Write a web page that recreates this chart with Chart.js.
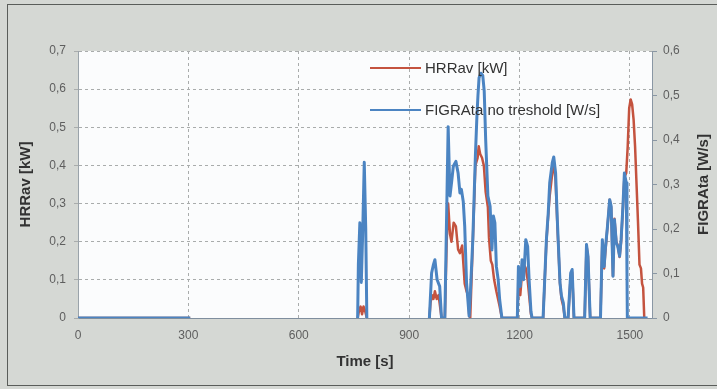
<!DOCTYPE html>
<html>
<head>
<meta charset="utf-8">
<script src="https://cdn.jsdelivr.net/npm/chart.js@4/dist/chart.umd.min.js"></script>
<style>
  body { margin: 0; background: #d5d8d4; }
  #wrap { position: relative; width: 717px; height: 389px; overflow: hidden; }
  #frame { position: absolute; left: 7px; top: 4px; width: 720px; height: 380px;
           border: 1px solid #5a5d5a; border-right: none; }
  canvas { position: absolute; left: 0; top: 0; }
</style>
</head>
<body>
<div id="wrap">
  <div id="frame"></div>
  <canvas id="chart" width="717" height="389"></canvas>
</div>
<script>
// x-axis ticks (s) and y-axis ticks
const timeTicks = [0, 300, 600, 900, 1200, 1500];
const hrrTicks = [0, 0.1, 0.2, 0.3, 0.4, 0.5, 0.6, 0.7];
const figraTicks = [0, 0.1, 0.2, 0.3, 0.4, 0.5, 0.6];

// HRRav [kW] (left axis), null = no data
const hrrTime = [0, 305, 306,
  760, 764, 768, 772, 776, 780, 785, 786,
  955, 958, 962, 966, 970, 975, 980, 988, 997,
  1002, 1006, 1011, 1015, 1021, 1027, 1033, 1038, 1044, 1051, 1056, 1060, 1063, 1066,
  1073, 1080, 1086, 1089, 1093, 1098, 1103, 1108, 1114, 1117, 1122, 1126, 1131, 1137, 1146, 1152,
  1194, 1197, 1202, 1207, 1212, 1217, 1222, 1226, 1231, 1234,
  1264, 1273, 1278, 1282, 1289, 1293, 1298, 1303, 1310, 1314, 1319, 1323,
  1332, 1339, 1343, 1348, 1377, 1382, 1386, 1392,
  1420, 1425, 1430, 1433, 1439, 1445, 1449, 1454, 1458, 1463, 1467, 1472, 1476, 1481, 1485, 1490,
  1494, 1498, 1502, 1506, 1510, 1514, 1518, 1522, 1526, 1530, 1533, 1536, 1539];
const hrrValues = [0, 0, null,
  0, 0.02, 0.03, 0.01, 0.03, 0.02, 0, null,
  0, 0.04, 0.06, 0.05, 0.07, 0.05, 0.06, 0, 0,
  0.2, 0.3, 0.22, 0.2, 0.25, 0.24, 0.18, 0.17, 0.19, 0.09, 0.07, 0.06, 0.01, 0,
  0.2, 0.4, 0.42, 0.45, 0.43, 0.42, 0.4, 0.33, 0.29, 0.21, 0.15, 0.14, 0.1, 0.07, 0.03, 0,
  0, 0.08, 0.06, 0.12, 0.14, 0.13, 0.1, 0.06, 0.01, 0,
  0, 0.2, 0.27, 0.32, 0.38, 0.41, 0.36, 0.24, 0.09, 0.05, 0.03, 0,
  0, 0.11, 0.12, 0, 0, 0.19, 0.16, 0,
  0, 0.2, 0.13, 0.17, 0.24, 0.31, 0.29, 0.11, 0.26, 0.2, 0.19, 0.16, 0.2, 0.29, 0.37, 0.38,
  0.45, 0.55, 0.573, 0.56, 0.52, 0.45, 0.35, 0.25, 0.14, 0.13, 0.09, 0.08, 0];

// FIGRAta no treshold [W/s] (right axis)
const figraTime = [0, 305, 306,
  760, 762, 766, 770, 774, 778, 782, 785, 786,
  955, 961, 966, 970, 976, 983, 988, 997,
  1006, 1011, 1016, 1020, 1027, 1033, 1038, 1042, 1047, 1051, 1056, 1063, 1066,
  1073, 1080, 1084, 1087, 1090, 1095, 1100, 1104, 1108, 1114, 1120, 1125, 1129, 1133, 1137, 1142, 1146, 1152,
  1194, 1197, 1202, 1207, 1211, 1217, 1222, 1226, 1231, 1234,
  1264, 1273, 1278, 1282, 1289, 1293, 1298, 1303, 1310, 1314, 1319, 1323,
  1332, 1339, 1343, 1348, 1377, 1382, 1386, 1392,
  1420, 1425, 1430, 1433, 1439, 1445, 1449, 1454, 1458, 1463, 1467, 1472, 1476, 1481, 1485, 1490, 1492, 1493, 1548];
const figraValues = [0, 0, null,
  0, 0.12, 0.214, 0.08, 0.2, 0.35, 0.2, 0, null,
  0, 0.101, 0.12, 0.131, 0.086, 0.071, 0, 0,
  0.43, 0.274, 0.31, 0.341, 0.352, 0.326, 0.281, 0.289, 0.262, 0.206, 0.079, 0.004, 0.05,
  0.176, 0.364, 0.45, 0.5, 0.54, 0.55, 0.545, 0.51, 0.4, 0.274, 0.251, 0.153, 0.229, 0.214, 0.116, 0.086, 0.041, 0,
  0, 0.116, 0.071, 0.131, 0.086, 0.176, 0.161, 0.086, 0.015, 0,
  0, 0.176, 0.236, 0.304, 0.349, 0.362, 0.326, 0.214, 0.079, 0.049, 0.034, 0,
  0, 0.101, 0.109, 0, 0, 0.165, 0.139, 0,
  0, 0.176, 0.116, 0.153, 0.206, 0.266, 0.251, 0.094, 0.221, 0.169, 0.161, 0.139, 0.176, 0.251, 0.326, 0.304, 0.1, 0, 0];

const RED = '#c4533f';
const BLUE = '#4b84c2';
const GRID = '#a9acac';
const TEXT = '#5e5e5e';
const TITLE = '#333';
const FONT = '"Liberation Sans", Arial, sans-serif';

const toPoints = (xs, ys) => xs.map((x, i) => ({ x: x, y: ys[i] }));
const comma = v => v === 0 ? '0' : v.toFixed(1).replace('.', ',');
const fixTicks = list => scale => { scale.ticks = list.map(v => ({ value: v })); };

// legend drawn inside the plot, like the original
const insideLegend = {
  id: 'insideLegend',
  afterDatasetsDraw(chart) {
    const ctx = chart.ctx;
    const items = [
      { label: 'HRRav [kW]', color: RED, y: 68 },
      { label: 'FIGRAta no treshold [W/s]', color: BLUE, y: 110 }
    ];
    ctx.save();
    ctx.font = '15px ' + FONT;
    ctx.textBaseline = 'middle';
    items.forEach(it => {
      ctx.strokeStyle = it.color;
      ctx.lineWidth = 2;
      ctx.beginPath();
      ctx.moveTo(370, it.y);
      ctx.lineTo(421, it.y);
      ctx.stroke();
      ctx.fillStyle = TITLE;
      ctx.fillText(it.label, 425, it.y + 1);
    });
    ctx.restore();
  }
};

// right axis title reads bottom-to-top in the original
const rightTitle = {
  id: 'rightTitle',
  afterDraw(chart) {
    const a = chart.chartArea;
    const ctx = chart.ctx;
    ctx.save();
    ctx.translate(704, (a.top + a.bottom) / 2);
    ctx.rotate(-Math.PI / 2);
    ctx.font = 'bold 15px ' + FONT;
    ctx.fillStyle = TITLE;
    ctx.textAlign = 'center';
    ctx.textBaseline = 'middle';
    ctx.fillText('FIGRAta [W/s]', 0, 0);
    ctx.restore();
  }
};

const plotBg = {
  id: 'plotBg',
  beforeDraw(chart) {
    const a = chart.chartArea;
    chart.ctx.save();
    chart.ctx.fillStyle = '#fbfcfd';
    chart.ctx.fillRect(a.left, a.top, a.right - a.left, a.bottom - a.top);
    chart.ctx.restore();
  }
};

const tickFont = { family: FONT, size: 12 };
const titleFont = { family: FONT, size: 15, weight: 'bold' };

new Chart(document.getElementById('chart'), {
  type: 'line',
  data: {
    datasets: [{
      label: 'HRRav [kW]',
      data: toPoints(hrrTime, hrrValues),
      yAxisID: 'y',
      borderColor: RED,
      borderWidth: 2.5,
      borderJoinStyle: 'round',
      pointRadius: 0,
      tension: 0,
      spanGaps: false,
      order: 2
    }, {
      label: 'FIGRAta no treshold [W/s]',
      data: toPoints(figraTime, figraValues),
      yAxisID: 'y2',
      borderColor: BLUE,
      borderWidth: 3,
      borderJoinStyle: 'round',
      pointRadius: 0,
      tension: 0,
      spanGaps: false,
      order: 1
    }]
  },
  options: {
    responsive: false,
    animation: false,
    layout: { padding: { top: 51, left: 0, right: 0, bottom: 0 } },
    plugins: { legend: { display: false }, tooltip: { enabled: false } },
    scales: {
      x: {
        type: 'linear',
        min: 0,
        max: 1560,
        afterBuildTicks: fixTicks(timeTicks),
        afterFit: s => { s.height = 71; },
        grid: { color: GRID, drawTicks: false },
        border: { color: '#7f8e9e', dash: [3, 3], width: 1 },
        ticks: { color: TEXT, font: tickFont, padding: 10, callback: v => String(v) },
        title: { display: true, text: 'Time [s]', color: TITLE, font: titleFont, padding: { top: 0, bottom: 18 } }
      },
      y: {
        position: 'left',
        min: 0,
        max: 0.7,
        afterBuildTicks: fixTicks(hrrTicks),
        afterFit: s => { s.width = 78; },
        grid: { color: GRID, tickLength: 4 },
        border: { color: '#9aa3aa', dash: [3, 3] },
        ticks: { color: TEXT, font: tickFont, padding: 8, callback: comma },
        title: { display: true, text: 'HRRav [kW]', color: TITLE, font: titleFont, padding: { top: 17, bottom: 0 } }
      },
      y2: {
        position: 'right',
        min: 0,
        max: 0.6,
        afterBuildTicks: fixTicks(figraTicks),
        afterFit: s => { s.width = 65; },
        grid: { drawOnChartArea: false, color: '#8a97a4', tickLength: 5 },
        border: { color: '#8a97a4' },
        ticks: { color: TEXT, font: tickFont, padding: 6, callback: comma },
        title: { display: false }
      }
    }
  },
  plugins: [plotBg, insideLegend, rightTitle]
});
</script>
</body>
</html>
